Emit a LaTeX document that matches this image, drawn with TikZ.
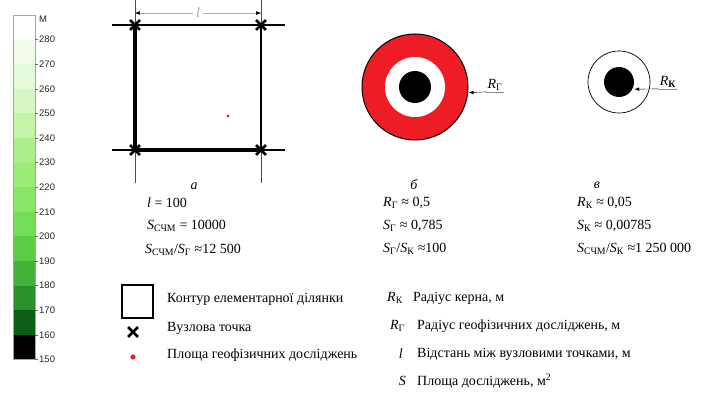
\documentclass[tikz,border=0pt]{standalone}
\usepackage{fontspec}
\setmainfont{Liberation Serif}
\newfontfamily\barfont{Liberation Sans}
\usetikzlibrary{arrows.meta,shapes.misc,positioning}
\definecolor{levA}{HTML}{F0FCEA}\definecolor{levB}{HTML}{E4FAD8}
\definecolor{levC}{HTML}{D6F7C2}\definecolor{levD}{HTML}{C4F4A8}
\definecolor{levE}{HTML}{ADEE8A}\definecolor{levF}{HTML}{9CEA78}
\definecolor{levG}{HTML}{8AE566}\definecolor{levH}{HTML}{74DC55}
\definecolor{levI}{HTML}{5CCC45}\definecolor{levJ}{HTML}{42B33A}
\definecolor{levK}{HTML}{2A902C}\definecolor{levL}{HTML}{0E5E18}
\definecolor{geored}{HTML}{EE1C25}
\newcommand{\ix}[1]{\textsubscript{#1}}

\begin{document}
\begin{tikzpicture}[x=1pt,y=-1pt,>=Latex,every node/.style={font=\fontsize{14}{16}\selectfont},
  nodept/.style={draw,cross out,line width=2.8pt,minimum size=7pt,inner sep=0pt},
  bartext/.style={font=\barfont\fontsize{9.5}{11}\selectfont,anchor=west,inner sep=1pt,text=black!85},
  txt/.style={anchor=west,inner sep=1pt}]
\useasboundingbox (0,0) rectangle (705,396);
% colour scale
\foreach \c [count=\i from 0] in {white,levA,levB,levC,levD,levE,levF,levG,levH,levI,levJ,levK,levL,black}
  \fill[\c] (13,{15+24.6*\i}) rectangle (35,{15+24.6*(\i+1)});
\draw[black!35] (13,15) rectangle (35,359.4);
\node[bartext] (unit) at (38,19) {М};
\foreach \v [count=\i] in {280,270,...,150}
  \draw[black!60] (35,{15+24.6*\i}) -- (38,{15+24.6*\i}) node[bartext] (lev\v) {\v};
% elementary cell (a)
\coordinate (nw) at (135,25);\coordinate (ne) at (261,25);
\coordinate (sw) at (135,150);\coordinate (se) at (261,150);
\draw[black!70] (135,0) -- (135,183) (261,0) -- (261,183);
\draw[line width=1.4pt] (112,25) -- (285,25) (112,150) -- (285,150);
\draw[line width=3.2pt] (nw) -- (sw) -- (se);
\draw[line width=2.6pt] (se) -- (ne);
\foreach \p in {nw,ne,sw,se} \node[nodept] (x\p) at (\p) {};
\coordinate (dl) at (135,13);\coordinate (dr) at (261,13);
\draw[black!35,{Latex[black]}-{Latex[black]}] (dl) -- (dr) node[midway,fill=white,inner sep=3pt] (lenl) {\textit{l}};
\fill[geored] (228,116) circle (1.6);
% geophysical zone (b)
\coordinate (cg) at (415,87);
\filldraw[fill=geored,draw=black,line width=1pt] (cg) circle (53);
\fill[white] (cg) circle (30);
\fill (cg) circle (16);
\path (cg) ++(6:54) coordinate (edgeg);
\node[inner sep=1pt] (rg) at (495,85) {\textit{R}\ix{Г}};
\draw[black!45] (rg.south east) -- (rg.south west);
\draw[->] (rg.south west) -- (edgeg);
% core (c)
\coordinate (ck) at (619,82);
\draw[line width=0.7pt] (ck) circle (31);
\fill (ck) circle (15);
\path (ck) ++(25:17) coordinate (edgek);
\node[inner sep=1pt] (rk) at (668,82) {\textit{R}\ix{\textbf{К}}};
\draw[black!45] (rk.south east) -- (rk.south west);
\draw[->] (rk.south west) -- (edgek);
% values
\node (capa) at (194,186) {\textit{а}};
\node[txt] (va1) at (146,203) {\textit{l} = 100};
\node[txt] (va2) at (146,226) {\textit{S}\ix{СЧМ} = 10000};
\node[txt] (va3) at (144,250) {\textit{S}\ix{СЧМ}/\textit{S}\ix{Г} ≈12 500};
\node (capb) at (414,185) {\textit{б}};
\node[txt] (vb1) at (382,203) {\textit{R}\ix{Г} ≈ 0,5};
\node[txt] (vb2) at (382,226) {\textit{S}\ix{Г} ≈ 0,785};
\node[txt] (vb3) at (382,249) {\textit{S}\ix{Г}/\textit{S}\ix{К} ≈100};
\node (capc) at (597,185) {\textit{в}};
\node[txt] (vc1) at (576,203) {\textit{R}\ix{К} ≈ 0,05};
\node[txt] (vc2) at (576,226) {\textit{S}\ix{К} ≈ 0,00785};
\node[txt] (vc3) at (576,249) {\textit{S}\ix{СЧМ}/\textit{S}\ix{К} ≈1 250 000};
% legend
\draw[line width=1.6pt] (122,285) rectangle (153,318);
\node[txt] (lg1) at (166,299) {Контур елементарної ділянки};
\node[nodept] (lgx) at (133,332) {};
\node[txt] (lg2) at (166,328) {Вузлова точка};
\fill[geored] (133,357) circle (2.6);
\node[txt] (lg3) at (166,355) {Площа геофізичних досліджень};
\node[anchor=east,inner sep=1pt] (sk) at (404,298) {\textit{R}\ix{К}};
\node[txt] (lk) at (412,298) {Радіус керна, м};
\node[anchor=east,inner sep=1pt] (sg) at (406,326) {\textit{R}\ix{Г}};
\node[txt] (lgg) at (416,326) {Радіус геофізичних досліджень, м};
\node[anchor=east,inner sep=1pt] (sl) at (404,354) {\textit{l}};
\node[txt] (ll) at (416,354) {Відстань між вузловими точками, м};
\node[anchor=east,inner sep=1pt] (ss) at (407,381) {\textit{S}};
\node[txt] (ls) at (416,381) {Площа досліджень, м\textsuperscript{2}};
\end{tikzpicture}
\end{document}
